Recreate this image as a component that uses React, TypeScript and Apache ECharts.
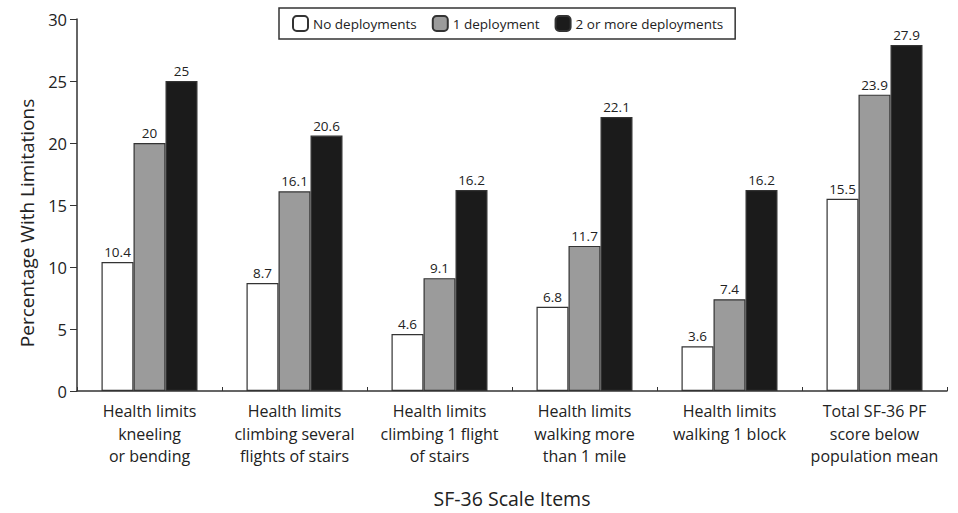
import React, { useEffect, useRef } from "react";
import * as echarts from "echarts";

const categories = [
  "Health limits\nkneeling\nor bending",
  "Health limits\nclimbing several\nflights of stairs",
  "Health limits\nclimbing 1 flight\nof stairs",
  "Health limits\nwalking more\nthan 1 mile",
  "Health limits\nwalking 1 block",
  "Total SF-36 PF\nscore below\npopulation mean",
];
const noDeployments = [10.4, 8.7, 4.6, 6.8, 3.6, 15.5];
const oneDeployment = [20, 16.1, 9.1, 11.7, 7.4, 23.9];
const twoOrMore = [25, 20.6, 16.2, 22.1, 16.2, 27.9];
const seriesNames = ["No deployments", "1 deployment", "2 or more deployments"];
const yTitle = "Percentage With Limitations";
const xTitle = "SF-36 Scale Items";

const FONT = "'Open Sans', 'Noto Sans', sans-serif";

export default function App() {
  const ref = useRef<HTMLDivElement>(null);
  useEffect(() => {
    if (!ref.current) return;
    const chart = echarts.init(ref.current, null, { renderer: "svg" });
    const colors = ["#ffffff", "#9b9b9b", "#1b1b1b"];
    const datasets = [noDeployments, oneDeployment, twoOrMore];
    chart.setOption({
      animation: false,
      backgroundColor: "#ffffff",
      textStyle: { fontFamily: FONT },
      legend: {
        left: 279,
        top: 8,
        padding: [7, 12, 7, 13],
        itemGap: 15,
        itemWidth: 15,
        itemHeight: 15,
        borderColor: "#333",
        borderWidth: 1.5,
        textStyle: { fontFamily: FONT, fontSize: 13.5, color: "#222" },
        data: seriesNames,
      },
      graphic: [
        {
          type: "text",
          x: 27,
          y: 223,
          rotation: Math.PI / 2,
          style: {
            text: yTitle,
            fontFamily: FONT,
            fontSize: 19,
            fill: "#222",
            align: "center",
            verticalAlign: "middle",
          },
        },
      ],
      grid: { left: 77, right: 11, top: 19, bottom: 122 },
      xAxis: {
        type: "category",
        data: categories,
        name: xTitle,
        nameLocation: "middle",
        nameGap: 97,
        nameTextStyle: { fontFamily: FONT, fontSize: 19.5, color: "#222", verticalAlign: "top" },
        axisLine: { lineStyle: { color: "#333", width: 1.5 } },
        axisTick: { show: true, inside: true, length: 4, lineStyle: { color: "#333" } },
        axisLabel: {
          fontFamily: FONT,
          fontSize: 16,
          color: "#222",
          lineHeight: 22.5,
          margin: 9,
          interval: 0,
        },
      },
      yAxis: {
        type: "value",
        min: 0,
        max: 30,
        interval: 5,
        axisLine: { show: true, lineStyle: { color: "#333", width: 1.5 } },
        axisTick: { show: true, length: 7, lineStyle: { color: "#333" } },
        axisLabel: { fontFamily: FONT, fontSize: 16.5, color: "#222", margin: 10 },
        splitLine: { show: false },
      },
      series: datasets.map((d, i) => ({
        name: seriesNames[i],
        type: "bar",
        data: d,
        barWidth: 32,
        barGap: "0%",
        itemStyle: { color: colors[i], borderColor: "#333", borderWidth: 1.2 },
        label: {
          show: true,
          position: "top",
          distance: 3,
          fontFamily: FONT,
          fontSize: 13.5,
          color: "#222",
        },
      })),
    });
    return () => chart.dispose();
  }, []);
  return <div ref={ref} style={{ width: 958, height: 513, position: "absolute", left: 0, top: 0 }} />;
}
